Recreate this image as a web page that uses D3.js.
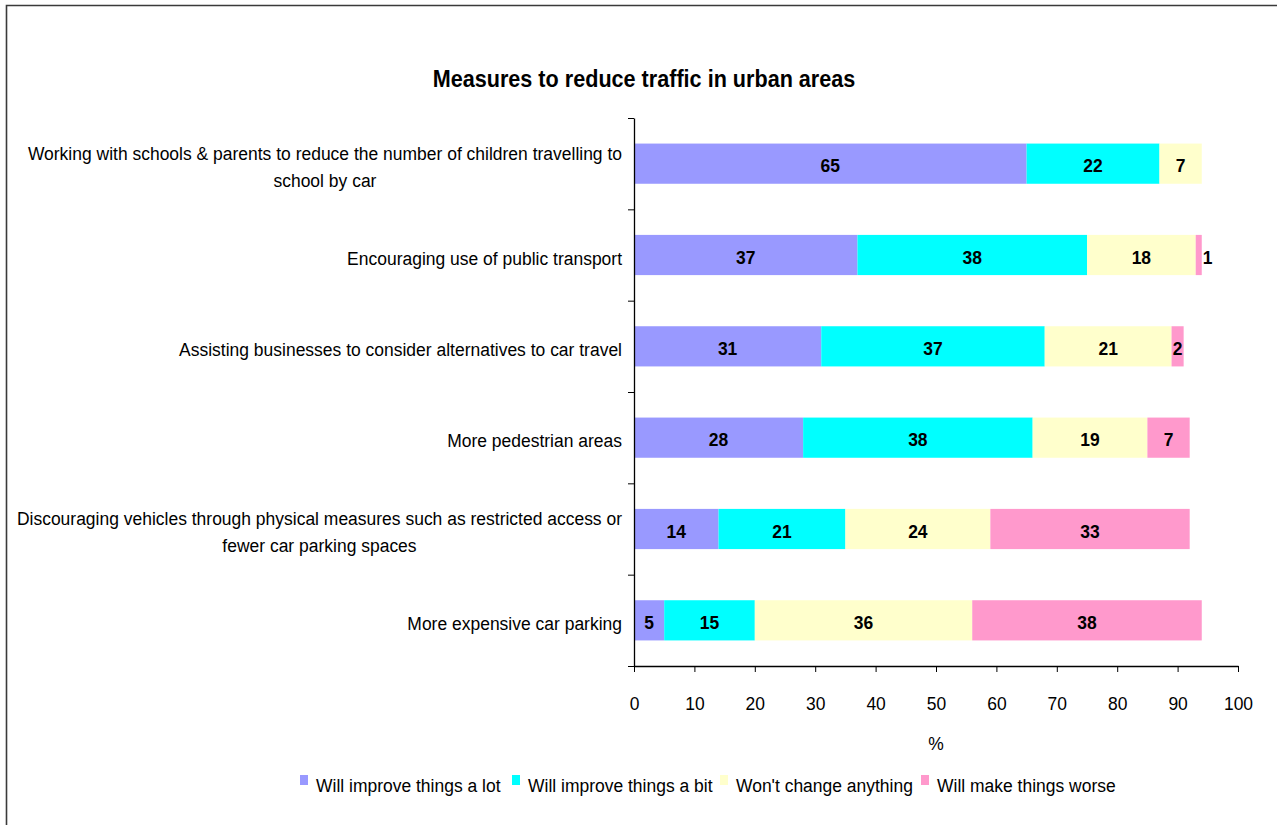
<!DOCTYPE html>
<html>
<head>
<meta charset="utf-8">
<script src="https://cdn.jsdelivr.net/npm/d3@7"></script>
<style>
  html, body { margin: 0; padding: 0; background: #fff; }
  svg { display: block; }
  text { font-family: "Liberation Sans", Arial, sans-serif; fill: #000; }
</style>
</head>
<body>
<svg id="chart" width="1277" height="825"></svg>
<script>
// Survey results: share of respondents per answer, by traffic measure
const categories = [
  ["Working with schools & parents to reduce the number of children travelling to", "school by car"],
  ["Encouraging use of public transport"],
  ["Assisting businesses to consider alternatives to car travel"],
  ["More pedestrian areas"],
  ["Discouraging vehicles through physical measures such as restricted access or", "fewer car parking spaces"],
  ["More expensive car parking"]
];
const seriesNames = ["Will improve things a lot", "Will improve things a bit", "Won't change anything", "Will make things worse"];
const improveLot = [65, 37, 31, 28, 14, 5];
const improveBit = [22, 38, 37, 38, 21, 15];
const noChange   = [7, 18, 21, 19, 24, 36];
const worse      = [0, 1, 2, 7, 33, 38];
const xTicks = [0, 10, 20, 30, 40, 50, 60, 70, 80, 90, 100];
const colors = ["#9999FF", "#00FFFF", "#FFFFCC", "#FF99CC"];

// narrow rendering of the sans face
const SX = 0.92;
const FS = 19;

const svg = d3.select("#chart");

// places a horizontally condensed text at (px, py)
function narrowText(parent, px, py, str, opts = {}) {
  return parent.append("text")
    .attr("transform", `translate(${px},${py}) scale(${SX},1)`)
    .attr("text-anchor", opts.anchor || "start")
    .style("font-size", (opts.size || FS) + "px")
    .style("font-weight", opts.bold ? "bold" : "normal")
    .text(str);
}

// outer frame
svg.append("path")
  .attr("d", "M6.5,830 V5.5 H1290")
  .attr("fill", "none").attr("stroke", "#3a3a3a").attr("stroke-width", 1.6);

const plot = { left: 634, right: 1238, top: 118, bottom: 666 };

const x = d3.scaleLinear().domain([0, 100]).range([plot.left, plot.right]);
const y = d3.scaleBand().domain(d3.range(categories.length))
  .range([plot.top, plot.bottom]).paddingInner(0.56).paddingOuter(0.28);

// title
narrowText(svg, 644, 87, "Measures to reduce traffic in urban areas", { anchor: "middle", size: 23.5, bold: true });

// stacked rows
const table = categories.map((c, i) => ({ i, values: [improveLot[i], improveBit[i], noChange[i], worse[i]] }));
const stacked = d3.stack().keys([0, 1, 2, 3]).value((d, k) => d.values[k])(table);

stacked.forEach((layer, k) => {
  svg.append("g").selectAll("rect").data(layer.filter(d => d[1] > d[0])).join("rect")
    .attr("x", d => x(d[0]))
    .attr("y", d => y(d.data.i))
    .attr("width", d => x(d[1]) - x(d[0]))
    .attr("height", y.bandwidth())
    .attr("fill", colors[k]);
});

// value labels, centred in each segment; a label wider than its segment sits just past its end
stacked.forEach((layer, k) => {
  layer.filter(d => d[1] > d[0]).forEach(d => {
    const v = d.data.values[k];
    const w = x(d[1]) - x(d[0]);
    const by = y(d.data.i) + y.bandwidth() / 2 + 8.5;
    const t = narrowText(svg, 0, by, v, { bold: true });
    const tw = t.node().getComputedTextLength() * SX;
    if (tw > w) {
      t.attr("text-anchor", "start").attr("transform", `translate(${x(d[1]) + 1},${by}) scale(${SX},1)`);
    } else {
      t.attr("text-anchor", "middle").attr("transform", `translate(${(x(d[0]) + x(d[1])) / 2},${by}) scale(${SX},1)`);
    }
  });
});

// y axis with ticks at category boundaries
const yEdges = d3.scaleLinear().domain([0, categories.length]).range([plot.top, plot.bottom]);
const yAxis = svg.append("g")
  .attr("transform", `translate(${plot.left},0)`)
  .call(d3.axisLeft(yEdges).tickValues(d3.range(categories.length + 1)).tickSize(6).tickSizeOuter(0).tickFormat(""));
yAxis.select(".domain").attr("stroke", "#000").attr("stroke-width", 1.3);
yAxis.selectAll(".tick line").attr("stroke", "#000");

// x axis
const xAxis = svg.append("g")
  .attr("transform", `translate(0,${plot.bottom})`)
  .call(d3.axisBottom(x).tickValues(xTicks).tickSize(6).tickSizeOuter(0).tickPadding(24.5));
xAxis.select(".domain").attr("stroke", "#000").attr("stroke-width", 1.3);
xAxis.selectAll(".tick line").attr("stroke", "#000");
xAxis.selectAll(".tick text")
  .style("font-size", FS + "px")
  .style("font-family", "'Liberation Sans', Arial, sans-serif")
  .attr("fill", "#000")
  .attr("transform", `scale(${SX},1)`);

narrowText(svg, x(50), 750, "%", { anchor: "middle" });

// category labels: lines centred on each other, block right-aligned to the axis
categories.forEach((lines, i) => {
  const cy = y(i) + y.bandwidth() / 2;
  const lineH = 27;
  const texts = lines.map((s, j) => narrowText(svg, 0, cy + (j - (lines.length - 1) / 2) * lineH + 9.5, s, { anchor: "middle" }));
  const wMax = d3.max(texts, t => t.node().getComputedTextLength() * SX);
  texts.forEach((t, j) => t.attr("transform",
    `translate(${622 - wMax / 2},${cy + (j - (lines.length - 1) / 2) * lineH + 9.5}) scale(${SX},1)`));
});

// legend
const legendX = [300, 512, 720, 921];
seriesNames.forEach((name, k) => {
  const g = svg.append("g").attr("transform", `translate(${legendX[k]},0)`);
  g.append("rect").attr("x", 0).attr("y", 775).attr("width", 8).attr("height", 10).attr("fill", colors[k]);
  narrowText(g, 16, 792, name);
});
</script>
</body>
</html>
